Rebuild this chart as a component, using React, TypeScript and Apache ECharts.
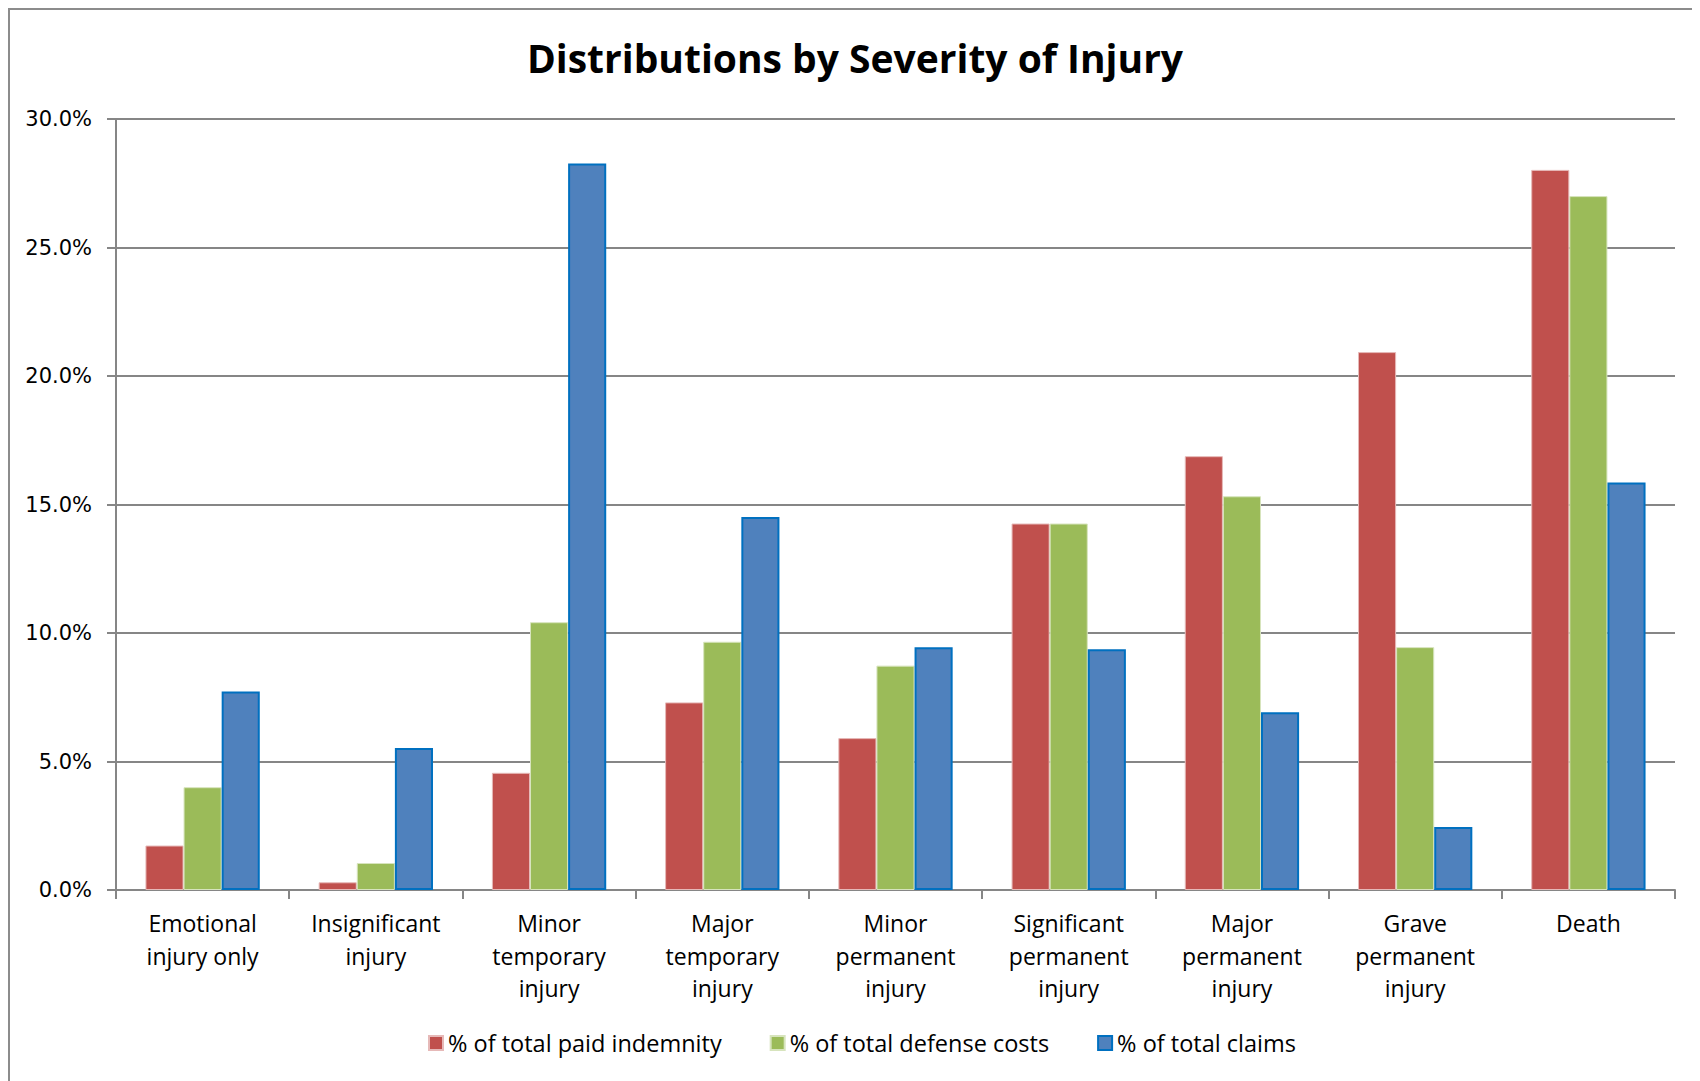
import React, { useEffect, useRef } from "react";
import * as echarts from "echarts";

const categories = [
  "Emotional\ninjury only",
  "Insignificant\ninjury",
  "Minor\ntemporary\ninjury",
  "Major\ntemporary\ninjury",
  "Minor\npermanent\ninjury",
  "Significant\npermanent\ninjury",
  "Major\npermanent\ninjury",
  "Grave\npermanent\ninjury",
  "Death",
];
const seriesNames = [
  "% of total paid indemnity",
  "% of total defense costs",
  "% of total claims",
];
const paidIndemnity = [1.73, 0.3, 4.56, 7.3, 5.91, 14.26, 16.88, 20.93, 28.02];
const defenseCosts = [4.0, 1.05, 10.42, 9.66, 8.73, 14.26, 15.32, 9.45, 27.0];
const totalClaims = [7.72, 5.53, 28.27, 14.51, 9.45, 9.37, 6.92, 2.45, 15.86];
const yTicks = { min: 0, max: 30, interval: 5 };

export default function App() {
  const ref = useRef<HTMLDivElement>(null);
  useEffect(() => {
    if (!ref.current) return;
    const chart = echarts.init(ref.current, undefined, { renderer: "svg" });
    const cat = "'Open Sans', sans-serif";
    chart.setOption({
      animation: false,
      backgroundColor: "#ffffff",
      title: {
        text: "Distributions by Severity of Injury",
        left: "center",
        top: 23,
        textStyle: { fontFamily: cat, fontWeight: "bold", fontSize: 39, color: "#000" },
      },
      legend: {
        bottom: 21,
        left: 413,
        itemWidth: 14,
        itemHeight: 14,
        itemGap: 48,
        icon: "rect",
        textStyle: { fontFamily: cat, fontSize: 23.5, color: "#000" },
        data: seriesNames,
      },
      grid: { left: 106, right: 25, top: 109, bottom: 191, containLabel: false },
      xAxis: {
        type: "category",
        data: categories,
        axisLine: { lineStyle: { color: "#868686", width: 2 } },
        axisTick: { show: true, length: 9, lineStyle: { color: "#868686", width: 2 } },
        axisLabel: {
          interval: 0,
          margin: 17,
          fontFamily: cat,
          fontSize: 23,
          lineHeight: 32.5,
          color: "#000",
        },
      },
      yAxis: {
        type: "value",
        min: yTicks.min,
        max: yTicks.max,
        interval: yTicks.interval,
        axisLine: { show: true, lineStyle: { color: "#868686", width: 2 } },
        axisTick: { show: true, length: 9, lineStyle: { color: "#868686", width: 2 } },
        splitLine: { lineStyle: { color: "#868686", width: 2 } },
        axisLabel: {
          margin: 24,
          fontFamily: "'DejaVu Sans', sans-serif",
          fontSize: 21,
          color: "#000",
          formatter: (v: number) => v.toFixed(1) + "%",
        },
      },
      series: [
        {
          name: seriesNames[0],
          type: "bar",
          data: paidIndemnity,
          barGap: "0%",
          barCategoryGap: "34%",
          itemStyle: { color: "#C0504D", borderColor: "#E6B9B8", borderWidth: 1 },
        },
        {
          name: seriesNames[1],
          type: "bar",
          data: defenseCosts,
          barGap: "0%",
          barCategoryGap: "34%",
          itemStyle: { color: "#9BBB59", borderColor: "#D7E4BD", borderWidth: 1 },
        },
        {
          name: seriesNames[2],
          type: "bar",
          data: totalClaims,
          barGap: "0%",
          barCategoryGap: "34%",
          itemStyle: { color: "#4F81BD", borderColor: "#0070C0", borderWidth: 2 },
        },
      ],
    });
    return () => chart.dispose();
  }, []);
  return (
    <div
      ref={ref}
      style={{
        width: 1690,
        height: 1071,
        borderTop: "2px solid #8c8c8c",
        borderLeft: "2px solid #8c8c8c",
      }}
    />
  );
}
